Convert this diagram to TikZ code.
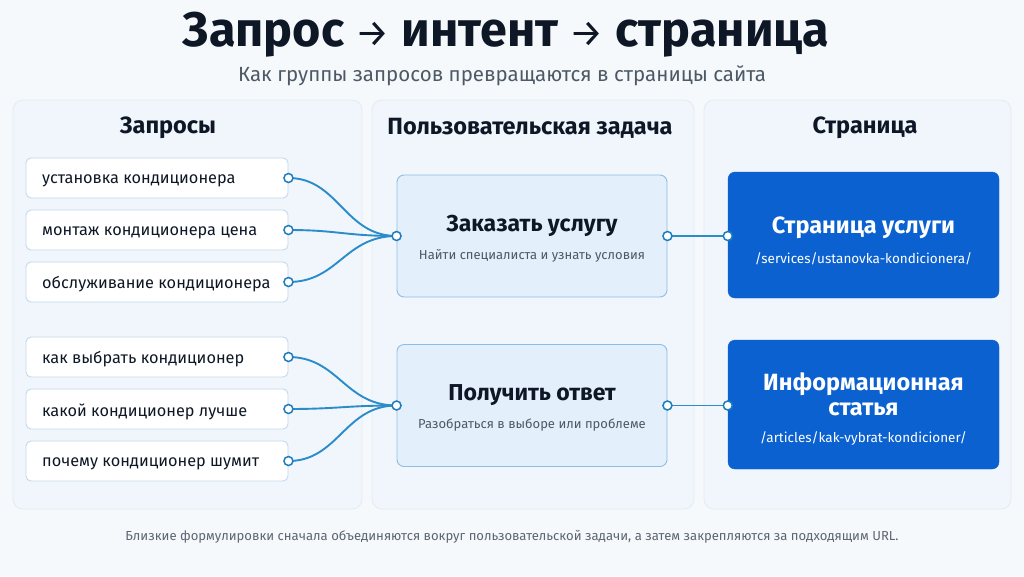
\documentclass[tikz,border=0pt]{standalone}
\usepackage{fontspec}
\setmainfont{Fira Sans}
\definecolor{bg}{HTML}{F5F9FC}
\definecolor{panelfill}{HTML}{F0F6FC}
\definecolor{panelline}{HTML}{E3EBF3}
\definecolor{qline}{HTML}{C3D9EC}
\definecolor{ifill}{HTML}{E3EFFA}
\definecolor{iline}{HTML}{8DBEE6}
\definecolor{pfill}{HTML}{0B61D0}
\definecolor{wire}{HTML}{2A8CCB}
\definecolor{dotline}{HTML}{1F7DBE}
\definecolor{ink}{HTML}{0E1726}
\definecolor{sub}{HTML}{4E5966}
\definecolor{foot}{HTML}{5C6672}
\begin{document}
\begin{tikzpicture}[x=1pt,y=-1pt,
  panel/.style={draw=panelline,fill=panelfill,rounded corners=10pt,line width=0.8pt},
  qbox/.style={draw=qline,fill=white,rounded corners=5pt,line width=0.9pt,minimum width=262pt,minimum height=40pt,inner sep=0pt},
  qtext/.style={anchor=west,font=\fontsize{16.3}{19}\selectfont,text=ink,inner sep=0pt},
  ibox/.style={draw=iline,fill=ifill,rounded corners=7pt,line width=0.9pt,minimum width=270pt,minimum height=122pt,inner sep=0pt},
  pbox/.style={draw=pfill,fill=pfill,rounded corners=7pt,minimum width=271pt,inner sep=0pt},
  head/.style={font=\fontsize{23.5}{28}\selectfont\bfseries,text=ink},
  ititle/.style={font=\fontsize{23}{27}\selectfont\bfseries,text=ink},
  isub/.style={font=\fontsize{13}{15}\selectfont,text=sub},
  ptitle/.style={font=\fontsize{23.5}{27}\selectfont\bfseries,text=white,align=center},
  purl/.style={font=\fontsize{13.5}{16}\selectfont,text=white},
  wirestyle/.style={draw=wire,line width=1.9pt},
  dot/.style={circle,draw=dotline,fill=white,line width=1.5pt,minimum size=9pt,inner sep=0pt}
]
\fill[bg] (0,0) rectangle (1024,576);
\useasboundingbox (0,0) rectangle (1024,576);

% title
\node[font=\fontsize{48.5}{55}\selectfont\bfseries,text=ink] (title) at (506,35) {Запрос {\mdseries\fontsize{38}{40}\selectfont→} интент {\mdseries\fontsize{38}{40}\selectfont→} страница};
\node[font=\fontsize{20.5}{24}\selectfont,text=sub] (subtitle) at (502,76) {Как группы запросов превращаются в страницы сайта};

% panels
\draw[panel] (13,100) rectangle (362,509);
\draw[panel] (372,100) rectangle (694,509);
\draw[panel] (704,100) rectangle (1011,509);

\node[head] (h1) at (168,128) {Запросы};
\node[head] (h2) at (530,128) {Пользовательская задача};
\node[head] (h3) at (865,128) {Страница};

% query boxes
\foreach \n/\y/\t in {q1/178/установка кондиционера, q2/230/монтаж кондиционера цена, q3/282/обслуживание кондиционера, q4/357/как выбрать кондиционер, q5/409/какой кондиционер лучше, q6/461/почему кондиционер шумит}{
  \node[qbox] (\n) at (157,\y) {};
  \node[qtext] (\n t) at (42,\y+2.5) {\t};
}

% intent boxes
\node[ibox] (i1) at (532,236) {};
\node[ititle] (i1t) at (532,226) {Заказать услугу};
\node[isub] (i1s) at (532,256) {Найти специалиста и узнать условия};
\node[ibox] (i2) at (532,405.5) {};
\node[ititle] (i2t) at (532,395) {Получить ответ};
\node[isub] (i2s) at (532,425) {Разобраться в выборе или проблеме};

% page boxes
\node[pbox,minimum height=126pt] (p1) at (863.5,235) {};
\node[ptitle] (p1t) at (863.5,228) {Страница услуги};
\node[purl] (p1u) at (863.5,259) {/services/ustanovka-kondicionera/};
\node[pbox,minimum height=129pt] (p2) at (863.5,404.5) {};
\node[ptitle] (p2t) at (863.5,394) {Информационная\\[-2pt]статья};
\node[purl] (p2u) at (863.5,438) {/articles/kak-vybrat-kondicioner/};

% connectors
\foreach \q/\i in {q1/i1,q2/i1,q3/i1,q4/i2,q5/i2,q6/i2}{
  \draw[wirestyle] (\q.east) .. controls +(50,0) and +(-52,0) .. (\i.west);
}
\draw[wirestyle] (i1.east) -- (p1.west |- i1.east);
\draw[wirestyle] (i2.east) -- (p2.west |- i2.east);

% dots
\foreach \q in {q1,q2,q3,q4,q5,q6}{ \node[dot] at (\q.east) {}; }
\node[dot] at (i1.west) {};
\node[dot] at (i1.east) {};
\node[dot] at (i2.west) {};
\node[dot] at (i2.east) {};
\node[dot] at (p1.west |- i1.east) {};
\node[dot] at (p2.west |- i2.east) {};

% footer
\node[font=\fontsize{13.1}{15}\selectfont,text=foot] (footer) at (512,537) {Близкие формулировки сначала объединяются вокруг пользовательской задачи, а затем закрепляются за подходящим URL.};
\end{tikzpicture}
\end{document}
